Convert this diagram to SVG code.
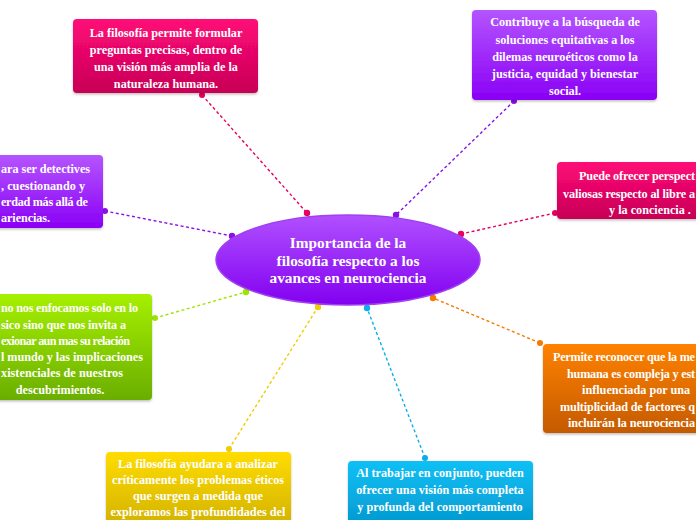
<svg xmlns="http://www.w3.org/2000/svg" width="696" height="520" viewBox="0 0 696 520">
<defs>
<linearGradient id="gPink" x1="0" y1="0" x2="0" y2="1"><stop offset="0" stop-color="#ff0a78"/><stop offset="1" stop-color="#c70055"/></linearGradient>
<linearGradient id="gPurple" x1="0" y1="0" x2="0" y2="1"><stop offset="0" stop-color="#b455ff"/><stop offset="1" stop-color="#8a00f5"/></linearGradient>
<linearGradient id="gGreen" x1="0" y1="0" x2="0" y2="1"><stop offset="0" stop-color="#a6f000"/><stop offset="1" stop-color="#6aae00"/></linearGradient>
<linearGradient id="gOrange" x1="0" y1="0" x2="0" y2="1"><stop offset="0" stop-color="#ff8200"/><stop offset="1" stop-color="#c45a00"/></linearGradient>
<linearGradient id="gYellow" x1="0" y1="0" x2="0" y2="1"><stop offset="0" stop-color="#ffdd00"/><stop offset="1" stop-color="#c9a800"/></linearGradient>
<linearGradient id="gCyan" x1="0" y1="0" x2="0" y2="1"><stop offset="0" stop-color="#10c0f5"/><stop offset="1" stop-color="#0090c8"/></linearGradient>
<linearGradient id="gCenter" x1="0" y1="0" x2="0" y2="1"><stop offset="0" stop-color="#b050ff"/><stop offset="1" stop-color="#8200f0"/></linearGradient>
<filter id="sh" x="-10%" y="-10%" width="120%" height="130%"><feDropShadow dx="0" dy="1.5" stdDeviation="1.2" flood-color="#000" flood-opacity="0.25"/></filter>
</defs>
<style>
text{font-family:"Liberation Serif","DejaVu Serif",serif;font-weight:bold;fill:#fff;text-anchor:middle;}
.t{font-size:12.2px;}
.s{text-anchor:start;}
.c{font-size:15.3px;}
.box{filter:url(#sh);}
.ln{fill:none;stroke-width:1.4;stroke-dasharray:3 2.5;}
</style>
<rect width="696" height="520" fill="#ffffff"/>
<g id="connectors">
<line class="ln" x1="202" y1="95" x2="307" y2="213" stroke="#e8005f"/>
<circle cx="202" cy="95" r="3" fill="#e8005f"/><circle cx="307" cy="213" r="3.2" fill="#e8005f"/>
<line class="ln" x1="514" y1="101" x2="396" y2="215" stroke="#8a10e8"/>
<circle cx="514" cy="101" r="3" fill="#8a10e8"/><circle cx="396" cy="215" r="3.2" fill="#8a10e8"/>
<line class="ln" x1="105" y1="211" x2="232" y2="236" stroke="#8a10e8"/>
<circle cx="105" cy="211" r="3" fill="#8a10e8"/><circle cx="232" cy="236" r="3.2" fill="#8a10e8"/>
<line class="ln" x1="555" y1="213" x2="461" y2="234" stroke="#e8005f"/>
<circle cx="555" cy="213" r="3" fill="#e8005f"/><circle cx="461" cy="234" r="3.2" fill="#e8005f"/>
<line class="ln" x1="155" y1="318" x2="246" y2="292" stroke="#9ae600"/>
<circle cx="155" cy="318" r="3" fill="#9ae600"/><circle cx="246" cy="292" r="3.2" fill="#9ae600"/>
<line class="ln" x1="540" y1="343" x2="433" y2="298" stroke="#f57a00"/>
<circle cx="540" cy="343" r="3" fill="#f57a00"/><circle cx="433" cy="298" r="3.2" fill="#f57a00"/>
<line class="ln" x1="229" y1="449" x2="318" y2="307" stroke="#f0cc00"/>
<circle cx="229" cy="449" r="3" fill="#f0cc00"/><circle cx="318" cy="307" r="3.2" fill="#f0cc00"/>
<line class="ln" x1="425" y1="458" x2="367" y2="308" stroke="#0aaee8"/>
<circle cx="425" cy="458" r="3" fill="#0aaee8"/><circle cx="367" cy="308" r="3.2" fill="#0aaee8"/>
</g>
<g id="center">
<ellipse cx="348" cy="260" rx="132" ry="45" fill="url(#gCenter)" stroke="#a040f0" stroke-width="1.5"/>
<text class="c" x="348" y="248">Importancia de la</text>
<text class="c" x="348" y="266">filosofía respecto a los</text>
<text class="c" x="348" y="283">avances en neurociencia</text>
</g>
<g id="n1">
<rect class="box" x="73" y="19" width="185" height="74" rx="4" fill="url(#gPink)"/>
<text class="t" x="166" y="37">La filosofía permite formular</text>
<text class="t" x="166" y="54">preguntas precisas,  dentro de</text>
<text class="t" x="166" y="71">una visión más amplia de la</text>
<text class="t" x="166" y="88">naturaleza humana.</text>
</g>
<g id="n2">
<rect class="box" x="472" y="10" width="185" height="90" rx="4" fill="url(#gPurple)"/>
<text class="t" x="565" y="26">Contribuye a la búsqueda de</text>
<text class="t" x="565" y="44">soluciones equitativas a los</text>
<text class="t" x="565" y="61">dilemas neuroéticos  como la</text>
<text class="t" x="565" y="78">justicia, equidad y bienestar</text>
<text class="t" x="565" y="95">social.</text>
</g>
<g id="n3">
<rect class="box" x="-90" y="155" width="193" height="73" rx="4" fill="url(#gPurple)"/>
<text class="t s" x="1" y="173" textLength="89">ara ser detectives</text>
<text class="t s" x="1" y="190" textLength="84">, cuestionando y</text>
<text class="t s" x="1" y="206" textLength="87">erdad más allá de</text>
<text class="t s" x="1" y="222" textLength="49">ariencias.</text>
</g>
<g id="n4">
<rect class="box" x="557" y="162" width="190" height="57" rx="4" fill="url(#gPink)"/>
<text class="t s" x="579" y="180" textLength="116">Puede ofrecer perspect</text>
<text class="t s" x="563" y="198" textLength="132">valiosas respecto al libre a</text>
<text class="t s" x="609" y="214">y la conciencia .</text>
</g>
<g id="n5">
<rect class="box" x="-40" y="294" width="192" height="106" rx="4" fill="url(#gGreen)"/>
<text class="t s" x="1" y="312" textLength="137">no nos enfocamos solo en lo</text>
<text class="t s" x="1" y="329" textLength="125">sico sino que nos invita a</text>
<text class="t s" x="1" y="345" textLength="129">exionar aun mas su relación</text>
<text class="t s" x="1" y="361" textLength="142">l mundo y las implicaciones</text>
<text class="t s" x="1" y="377" textLength="122">xistenciales de nuestros</text>
<text class="t" x="60" y="394">descubrimientos.</text>
</g>
<g id="n6">
<rect class="box" x="543" y="344" width="192" height="89" rx="4" fill="url(#gOrange)"/>
<text class="t s" x="553" y="361" textLength="142">Permite reconocer que la me</text>
<text class="t s" x="567" y="378" textLength="128">humana es compleja y est</text>
<text class="t s" x="582" y="394">influenciada por una</text>
<text class="t s" x="560" y="411" textLength="135">multiplicidad de factores q</text>
<text class="t s" x="568" y="427" textLength="127">incluirán la neurociencia</text>
</g>
<g id="n7">
<rect class="box" x="106" y="452" width="185" height="90" rx="4" fill="url(#gYellow)"/>
<text class="t" x="198" y="468">La filosofía ayudara a  analizar</text>
<text class="t" x="198" y="484">críticamente los problemas éticos</text>
<text class="t" x="198" y="500">que surgen a medida que</text>
<text class="t" x="198" y="516">exploramos las profundidades del</text>
</g>
<g id="n8">
<rect class="box" x="348" y="461" width="185" height="80" rx="4" fill="url(#gCyan)"/>
<text class="t" x="440" y="477">Al trabajar en conjunto, pueden</text>
<text class="t" x="440" y="494">ofrecer una visión más completa</text>
<text class="t" x="440" y="511">y profunda del comportamiento</text>
</g>
</svg>
